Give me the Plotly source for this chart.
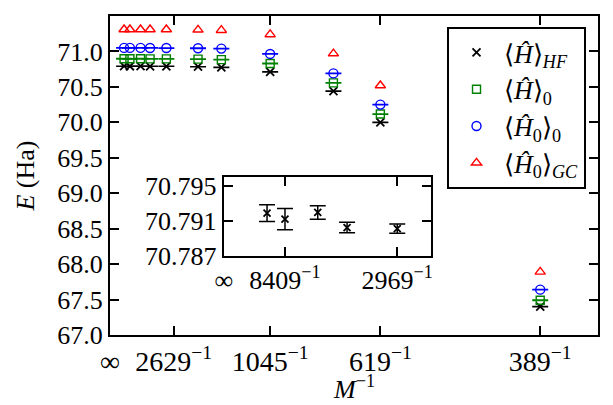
import numpy as np
import plotly.graph_objects as go

# ---- data ----
M_main = [11890, 8409, 5479, 4177, 2969, 1901, 1503, 1045, 749, 619, 389]
E_HF = [70.79188, 70.79119, 70.79195, 70.79023, 70.79012, 70.785, 70.775, 70.712, 70.44, 70.00, 67.40]
E_HF_err = [0.00095, 0.0012, 0.00076, 0.0006, 0.00053, 0.0008, 0.0009, 0.001, 0.001, 0.001, 0.001]
E_H0 = [70.897, 70.896, 70.897, 70.895, 70.895, 70.892, 70.885, 70.83, 70.556, 70.117, 67.49]
E_H0_err = [0.002, 0.002, 0.002, 0.002, 0.002, 0.002, 0.002, 0.002, 0.002, 0.002, 0.002]
E_H00 = [71.05, 71.05, 71.05, 71.049, 71.048, 71.045, 71.04, 70.965, 70.69, 70.25, 67.64]
E_H00_err = [0.002, 0.002, 0.002, 0.002, 0.002, 0.002, 0.002, 0.002, 0.002, 0.002, 0.002]
E_GC = [71.31, 71.31, 71.31, 71.31, 71.31, 71.305, 71.30, 71.24, 70.97, 70.52, 67.89]

M_inset = [11890, 8409, 5479, 4177, 2969]
E_HF_inset = [70.79188, 70.79119, 70.79195, 70.79023, 70.79012]
E_HF_inset_err = [0.00095, 0.0012, 0.00076, 0.0006, 0.00053]

main_tick_M = [2629, 1045, 619, 389]
inset_tick_M = [8409, 2969]
y_ticks_main = [67.0, 67.5, 68.0, 68.5, 69.0, 69.5, 70.0, 70.5, 71.0, 71.5]
y_ticks_inset = [70.787, 70.791, 70.795]

labels = ["\u27e8<i>\u0124</i>\u27e9<sub><i>HF</i></sub>",
          "\u27e8<i>\u0124</i>\u27e9<sub>0</sub>",
          "\u27e8<i>\u0124</i><sub>0</sub>\u27e9<sub>0</sub>",
          "\u27e8<i>\u0124</i><sub>0</sub>\u27e9<sub><i>GC</i></sub>"]
x_title = "<i>M</i><sup>\u22121</sup>"
y_title = "<i>E</i> (Ha)"

x_main = 1.0 / np.array(M_main)
x_inset = 1.0 / np.array(M_inset)

FONT = "Liberation Serif"
FS = 26
fig = go.Figure()

def eb(err, color):
    return dict(type="data", array=err, visible=True, color=color, thickness=1.5, width=8)

fig.add_trace(go.Scatter(x=x_main, y=E_HF, mode="markers", name=labels[0], legendgroup="a",
                         marker=dict(symbol="x-thin-open", size=8, color="black", line=dict(width=1.8, color="black")),
                         error_y=eb(E_HF_err, "black")))
fig.add_trace(go.Scatter(x=x_main, y=E_H0, mode="markers", name=labels[1], legendgroup="b",
                         marker=dict(symbol="square-open", size=8, color="green", line=dict(width=1.4, color="green")),
                         error_y=eb(E_H0_err, "green")))
fig.add_trace(go.Scatter(x=x_main, y=E_H00, mode="markers", name=labels[2], legendgroup="c",
                         marker=dict(symbol="circle-open", size=9, color="blue", line=dict(width=1.4, color="blue")),
                         error_y=eb(E_H00_err, "blue")))
fig.add_trace(go.Scatter(x=x_main, y=E_GC, mode="markers", name=labels[3], legendgroup="d",
                         marker=dict(symbol="triangle-up-open", size=9, color="red", line=dict(width=1.4, color="red"))))

fig.add_trace(go.Scatter(x=x_inset, y=E_HF_inset, mode="markers", showlegend=False,
                         xaxis="x2", yaxis="y2",
                         marker=dict(symbol="x-thin-open", size=7, color="black", line=dict(width=1.8, color="black")),
                         error_y=eb(E_HF_inset_err, "black")))

def axis_style(fs):
    return dict(showline=True, linecolor="black", linewidth=2, mirror="allticks",
                ticks="inside", ticklen=9, tickwidth=1.5, tickcolor="black",
                showgrid=False, zeroline=False, automargin=False,
                tickfont=dict(family=FONT, size=fs, color="black"))

main_tickvals = [0.0] + [1.0 / m for m in main_tick_M]
main_ticktext = ["\u221e"] + [f"{m}<sup>\u22121</sup>" for m in main_tick_M]
inset_tickvals = [0.0] + [1.0 / m for m in inset_tick_M]
inset_ticktext = ["\u221e"] + [f"{m}<sup>\u22121</sup>" for m in inset_tick_M]

fig.update_layout(
    width=605, height=397,
    margin=dict(l=102, r=15, t=8, b=70),
    paper_bgcolor="white", plot_bgcolor="white",
    font=dict(family=FONT, size=FS, color="black"),
    xaxis=dict(range=[0, 0.002916], tickvals=main_tickvals, ticktext=main_ticktext,
               **axis_style(28)),
    yaxis=dict(range=[67.0, 71.5], tickvals=y_ticks_main, tickformat=".1f",
               title=dict(text=y_title, font=dict(family=FONT, size=FS)),
               **axis_style(FS)),
    xaxis2=dict(domain=[0.233, 0.658], anchor="y2", range=[0, 0.0004025],
                tickvals=inset_tickvals, ticktext=inset_ticktext, **axis_style(FS)),
    yaxis2=dict(domain=[0.2476, 0.496], anchor="x2", range=[70.787, 70.796],
                tickvals=y_ticks_inset, tickformat=".3f", **axis_style(FS)),
    legend=dict(x=0.6906, y=0.9655, xanchor="left", yanchor="top",
                bordercolor="black", borderwidth=2, bgcolor="white",
                font=dict(family=FONT, size=FS), tracegroupgap=0, itemwidth=45,
                traceorder="grouped"),
    showlegend=True,
    annotations=[dict(text=x_title, xref="paper", yref="paper", x=0.5, y=0,
                      xanchor="center", yanchor="top", yshift=-34, showarrow=False,
                      font=dict(family=FONT, size=FS))],
)

fig.write_html("out.html")
